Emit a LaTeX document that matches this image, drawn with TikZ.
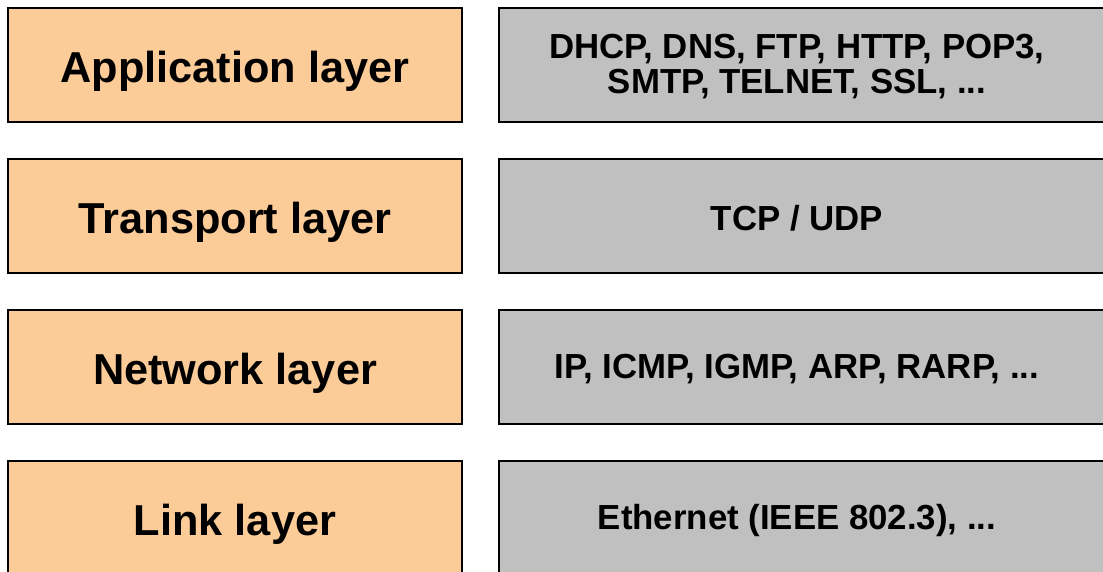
\documentclass[tikz,border=0pt]{standalone}
\usepackage{fontspec}
\setmainfont{Liberation Sans}
\definecolor{layerorange}{HTML}{FBCB98}
\definecolor{protogray}{HTML}{C0C0C0}
\begin{document}
\begin{tikzpicture}[x=1pt,y=-1pt,
  layerbox/.style={draw=black,line width=2.5pt,fill=layerorange},
  protobox/.style={draw=black,line width=2.5pt,fill=protogray},
  layertext/.style={font=\fontsize{43.3}{48}\selectfont\bfseries,align=center,inner sep=0pt},
  prototext/.style={font=\fontsize{34.8}{35}\selectfont\bfseries,align=center,inner sep=0pt}]
\useasboundingbox (0,0) rectangle (1103,572);
\foreach \i/\l/\p in {0/Application layer/{DHCP, DNS, FTP, HTTP, POP3,\\SMTP, TELNET, SSL, ...},
                     1/Transport layer/{TCP / UDP},
                     2/Network layer/{IP, ICMP, IGMP, ARP, RARP, ...},
                     3/Link layer/{Ethernet (IEEE 802.3), ...}} {
  \pgfmathsetmacro{\top}{8+151*\i}
  \pgfmathsetmacro{\bot}{\top+114}
  \pgfmathsetmacro{\mid}{\top+57}
  \draw[layerbox] (8,\top) rectangle (462,\bot);
  \draw[protobox] (499,\top) rectangle (1120,\bot);
  \node[layertext] (L\i) at (235,\mid+6) {\l};
  \node[prototext] (P\i) at (797,\mid+2) {\p};
}
\end{tikzpicture}
\end{document}
